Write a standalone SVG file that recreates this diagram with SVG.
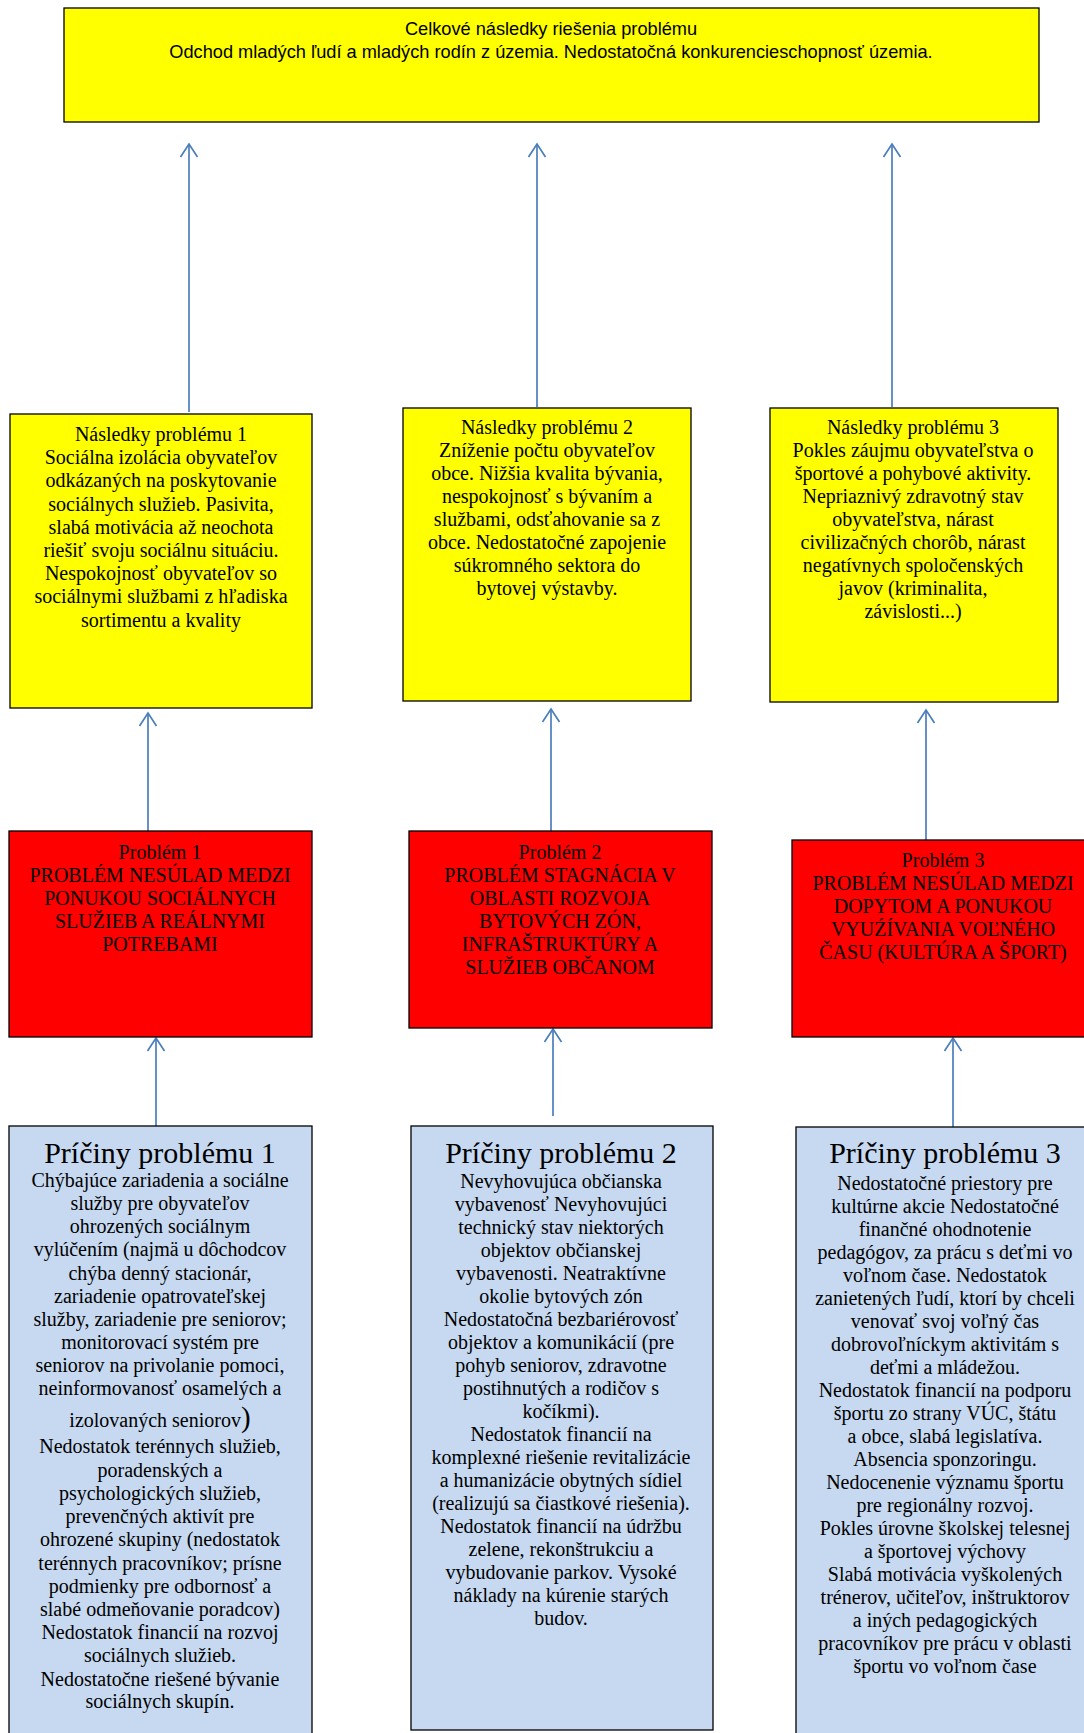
<svg xmlns="http://www.w3.org/2000/svg" width="1084" height="1733" viewBox="0 0 1084 1733">
<style>
.box{stroke:#000;stroke-width:1.3}
.y{fill:#FFFF00}.r{fill:#FF0000}.b{fill:#C6D9F1}
.s{font-family:"Liberation Serif","Times New Roman",serif;font-size:20px;fill:#000;text-anchor:middle}
.t{font-family:"Liberation Serif","Times New Roman",serif;font-size:30px;fill:#000;text-anchor:middle}
.c{font-family:"Liberation Sans",Arial,sans-serif;font-size:18.2px;fill:#000;text-anchor:middle}
.a{stroke:#4A7EBB;stroke-width:1.7;fill:none}
</style>
<defs>
<marker id="ah" markerUnits="userSpaceOnUse" markerWidth="20" markerHeight="20" viewBox="-15 -10 17 20" refX="0" refY="0" orient="auto">
<path d="M-13,-8.5 L0,0 L-13,8.5" fill="none" stroke="#4A7EBB" stroke-width="1.7"/>
</marker>
</defs>
<rect width="1084" height="1733" fill="#fff"/>
<g id="connectors">
<line class="a" x1="189" y1="412" x2="189" y2="144" marker-end="url(#ah)"/>
<line class="a" x1="537" y1="407" x2="537" y2="144" marker-end="url(#ah)"/>
<line class="a" x1="892" y1="407" x2="892" y2="144" marker-end="url(#ah)"/>
<line class="a" x1="148" y1="831" x2="148" y2="713" marker-end="url(#ah)"/>
<line class="a" x1="551" y1="831" x2="551" y2="709" marker-end="url(#ah)"/>
<line class="a" x1="926" y1="840" x2="926" y2="710" marker-end="url(#ah)"/>
<line class="a" x1="156" y1="1126" x2="156" y2="1038" marker-end="url(#ah)"/>
<line class="a" x1="553" y1="1116" x2="553" y2="1029" marker-end="url(#ah)"/>
<line class="a" x1="953" y1="1127" x2="953" y2="1038" marker-end="url(#ah)"/>
</g>
<g id="top">
<rect class="box y" x="64" y="8" width="975" height="114"/>
<text class="c"><tspan x="551" y="35">Celkové následky riešenia problému</tspan><tspan x="551" y="58">Odchod mladých ľudí a mladých rodín z územia. Nedostatočná konkurencieschopnosť územia.</tspan></text>
</g>
<g id="nasledky1">
<rect class="box y" x="10" y="414" width="302" height="294"/>
<text class="s"><tspan x="161" y="441">Následky problému 1</tspan><tspan x="161" y="464">Sociálna izolácia obyvateľov</tspan><tspan x="161" y="487">odkázaných na poskytovanie</tspan><tspan x="161" y="511">sociálnych služieb. Pasivita,</tspan><tspan x="161" y="534">slabá motivácia až neochota</tspan><tspan x="161" y="557">riešiť svoju sociálnu situáciu.</tspan><tspan x="161" y="580">Nespokojnosť obyvateľov so</tspan><tspan x="161" y="603">sociálnymi službami z hľadiska</tspan><tspan x="161" y="627">sortimentu a kvality</tspan></text>
</g>
<g id="nasledky2">
<rect class="box y" x="403" y="408" width="288" height="293"/>
<text class="s"><tspan x="547" y="434">Následky problému 2</tspan><tspan x="547" y="457">Zníženie počtu obyvateľov</tspan><tspan x="547" y="480">obce. Nižšia kvalita  bývania,</tspan><tspan x="547" y="503">nespokojnosť s  bývaním a</tspan><tspan x="547" y="526">službami, odsťahovanie sa z</tspan><tspan x="547" y="549">obce.  Nedostatočné zapojenie</tspan><tspan x="547" y="572">súkromného sektora do</tspan><tspan x="547" y="595">bytovej výstavby.</tspan></text>
</g>
<g id="nasledky3">
<rect class="box y" x="770" y="408" width="288" height="294"/>
<text class="s"><tspan x="913" y="434">Následky problému 3</tspan><tspan x="913" y="457">Pokles záujmu obyvateľstva o</tspan><tspan x="913" y="480">športové a pohybové aktivity.</tspan><tspan x="913" y="503">Nepriaznivý zdravotný stav</tspan><tspan x="913" y="526">obyvateľstva, nárast</tspan><tspan x="913" y="549">civilizačných chorôb,  nárast</tspan><tspan x="913" y="572">negatívnych spoločenských</tspan><tspan x="913" y="595">javov  (kriminalita,</tspan><tspan x="913" y="618">závislosti...)</tspan></text>
</g>
<g id="problem1">
<rect class="box r" x="9" y="831" width="303" height="206"/>
<text class="s"><tspan x="160" y="859">Problém 1</tspan><tspan x="160" y="882">PROBLÉM NESÚLAD MEDZI</tspan><tspan x="160" y="905">PONUKOU SOCIÁLNYCH</tspan><tspan x="160" y="928">SLUŽIEB A REÁLNYMI</tspan><tspan x="160" y="951">POTREBAMI</tspan></text>
</g>
<g id="problem2">
<rect class="box r" x="409" y="831" width="303" height="197"/>
<text class="s"><tspan x="560" y="859">Problém 2</tspan><tspan x="560" y="882">PROBLÉM STAGNÁCIA V</tspan><tspan x="560" y="905">OBLASTI ROZVOJA</tspan><tspan x="560" y="928">BYTOVÝCH ZÓN,</tspan><tspan x="560" y="951">INFRAŠTRUKTÚRY A</tspan><tspan x="560" y="974">SLUŽIEB OBČANOM</tspan></text>
</g>
<g id="problem3">
<rect class="box r" x="792" y="840" width="302" height="197"/>
<text class="s"><tspan x="943" y="867">Problém 3</tspan><tspan x="943" y="890">PROBLÉM NESÚLAD MEDZI</tspan><tspan x="943" y="913">DOPYTOM A PONUKOU</tspan><tspan x="943" y="936">VYUŹÍVANIA  VOĽNÉHO</tspan><tspan x="943" y="959">ČASU (KULTÚRA A ŠPORT)</tspan></text>
</g>
<g id="priciny1">
<rect class="box b" x="9" y="1126" width="303" height="620"/>
<text class="t" x="160" y="1163">Príčiny problému 1</text>
<text class="s"><tspan x="160" y="1187">Chýbajúce zariadenia a sociálne</tspan><tspan x="160" y="1210">služby pre obyvateľov</tspan><tspan x="160" y="1233">ohrozených sociálnym</tspan><tspan x="160" y="1256">vylúčením (najmä u dôchodcov</tspan><tspan x="160" y="1280">chýba denný stacionár,</tspan><tspan x="160" y="1303">zariadenie opatrovateľskej</tspan><tspan x="160" y="1326">služby, zariadenie pre seniorov;</tspan><tspan x="160" y="1349">monitorovací systém pre</tspan><tspan x="160" y="1372">seniorov na privolanie pomoci,</tspan><tspan x="160" y="1395">neinformovanosť osamelých a</tspan><tspan x="160" y="1427">izolovaných seniorov<tspan style="font-size:29px">)</tspan></tspan><tspan x="160" y="1453">Nedostatok terénnych služieb,</tspan><tspan x="160" y="1477">poradenských a</tspan><tspan x="160" y="1500">psychologických služieb,</tspan><tspan x="160" y="1523">prevenčných aktivít pre</tspan><tspan x="160" y="1546">ohrozené skupiny (nedostatok</tspan><tspan x="160" y="1570">terénnych pracovníkov; prísne</tspan><tspan x="160" y="1593">podmienky pre odbornosť a</tspan><tspan x="160" y="1616">slabé odmeňovanie poradcov)</tspan><tspan x="160" y="1639">Nedostatok financií na rozvoj</tspan><tspan x="160" y="1662">sociálnych služieb.</tspan><tspan x="160" y="1686">Nedostatočne riešené bývanie</tspan><tspan x="160" y="1708">sociálnych skupín.</tspan></text>
</g>
<g id="priciny2">
<rect class="box b" x="411" y="1126" width="302" height="604"/>
<text class="t" x="561" y="1163">Príčiny problému 2</text>
<text class="s"><tspan x="561" y="1188">Nevyhovujúca občianska</tspan><tspan x="561" y="1211">vybavenosť Nevyhovujúci</tspan><tspan x="561" y="1234">technický stav niektorých</tspan><tspan x="561" y="1257">objektov občianskej</tspan><tspan x="561" y="1280">vybavenosti. Neatraktívne</tspan><tspan x="561" y="1303">okolie bytových zón</tspan><tspan x="561" y="1326">Nedostatočná bezbariérovosť</tspan><tspan x="561" y="1349">objektov a komunikácií (pre</tspan><tspan x="561" y="1372">pohyb seniorov, zdravotne</tspan><tspan x="561" y="1395">postihnutých a rodičov s</tspan><tspan x="561" y="1418">kočíkmi).</tspan><tspan x="561" y="1441">Nedostatok financií na</tspan><tspan x="561" y="1464">komplexné riešenie revitalizácie</tspan><tspan x="561" y="1487">a humanizácie obytných sídiel</tspan><tspan x="561" y="1510">(realizujú sa čiastkové riešenia).</tspan><tspan x="561" y="1533">Nedostatok financií na údržbu</tspan><tspan x="561" y="1556">zelene, rekonštrukciu a</tspan><tspan x="561" y="1579">vybudovanie parkov. Vysoké</tspan><tspan x="561" y="1602">náklady na kúrenie starých</tspan><tspan x="561" y="1625">budov.</tspan></text>
</g>
<g id="priciny3">
<rect class="box b" x="796" y="1127" width="298" height="620"/>
<text class="t" x="945" y="1163">Príčiny problému 3</text>
<text class="s"><tspan x="945" y="1190">Nedostatočné priestory pre</tspan><tspan x="945" y="1213">kultúrne akcie Nedostatočné</tspan><tspan x="945" y="1236">finančné ohodnotenie</tspan><tspan x="945" y="1259">pedagógov, za prácu s deťmi vo</tspan><tspan x="945" y="1282">voľnom čase. Nedostatok</tspan><tspan x="945" y="1305">zanietených ľudí, ktorí by chceli</tspan><tspan x="945" y="1328">venovať svoj voľný čas</tspan><tspan x="945" y="1351">dobrovoľníckym aktivitám s</tspan><tspan x="945" y="1374">deťmi a mládežou.</tspan><tspan x="945" y="1397">Nedostatok financií na podporu</tspan><tspan x="945" y="1420">športu zo strany VÚC, štátu</tspan><tspan x="945" y="1443">a obce, slabá legislatíva.</tspan><tspan x="945" y="1466">Absencia sponzoringu.</tspan><tspan x="945" y="1489">Nedocenenie významu športu</tspan><tspan x="945" y="1512">pre regionálny rozvoj.</tspan><tspan x="945" y="1535">Pokles úrovne školskej telesnej</tspan><tspan x="945" y="1558">a športovej výchovy</tspan><tspan x="945" y="1581">Slabá motivácia vyškolených</tspan><tspan x="945" y="1604">trénerov, učiteľov, inštruktorov</tspan><tspan x="945" y="1627">a iných pedagogických</tspan><tspan x="945" y="1650">pracovníkov pre prácu v oblasti</tspan><tspan x="945" y="1673">športu vo voľnom čase</tspan></text>
</g>
</svg>
